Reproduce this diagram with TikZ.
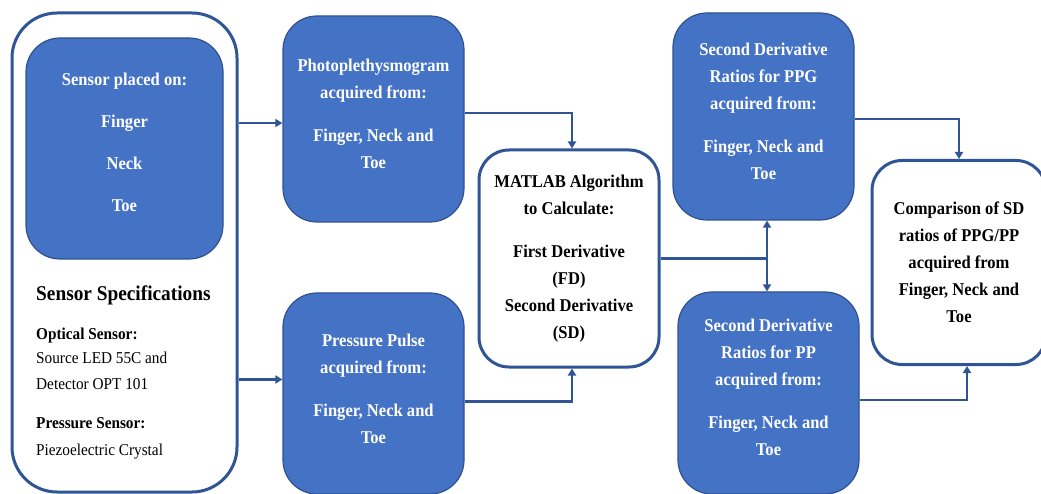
\documentclass[tikz,border=0pt]{standalone}
\usepackage{fontspec}
\setmainfont{Liberation Serif}[FakeStretch=0.92]
\usepackage{tikz}
\usetikzlibrary{positioning,arrows.meta,calc}

\definecolor{boxblue}{HTML}{4472C4}
\definecolor{edgeblue}{HTML}{2F528F}
\definecolor{linkblue}{HTML}{2F5597}

\begin{document}
\begin{tikzpicture}
[x=1pt,y=-1pt]

    \tikzstyle{bluebox}=[draw=edgeblue,line width=1.2pt,fill=boxblue,
                         rounded corners=34pt,text=white,align=center,
                         inner sep=0pt,font=\bfseries\fontsize{18}{27}\selectfont]
    \tikzstyle{whitebox}=[draw=linkblue,line width=3pt,fill=white,
                          rounded corners=30pt,align=center,inner sep=0pt,
                          font=\bfseries\fontsize{18}{27}\selectfont]
    \tikzstyle{spec}=[anchor=base west,inner sep=0pt]
    \tikzstyle{flow}=[draw=linkblue,line width=2.8pt,
                      -{Triangle[length=7pt,width=8pt]}]

    \useasboundingbox (0,0) rectangle (1041,494);
    \clip (0,0) rectangle (1041,494);

    % left panel: sensors and their specifications
    \node[whitebox,rounded corners=45pt,minimum width=225pt,minimum height=479pt]
        (outer) at (124.5,252.5) {};
    \node[bluebox,minimum width=197pt,minimum height=221pt] (placed) at (124.5,148.5)
        {Sensor placed on:\\[15pt]Finger\\[15pt]Neck\\[15pt]Toe\\[-14pt]\mbox{}};

    \node[spec,font=\bfseries\fontsize{21}{24}\selectfont] (spechead) at (36,300) {Sensor Specifications};
    \node[spec,font=\bfseries\fontsize{16.6}{20}\selectfont] (optlabel) at (36,339) {Optical Sensor:};
    \node[spec,font=\fontsize{16.6}{20}\selectfont] (optsrc) at (36,363) {Source LED 55C and};
    \node[spec,font=\fontsize{16.6}{20}\selectfont] (optdet) at (36,389) {Detector OPT 101};
    \node[spec,font=\bfseries\fontsize{16.6}{20}\selectfont] (preslabel) at (36,428) {Pressure Sensor:};
    \node[spec,font=\fontsize{16.6}{20}\selectfont] (prescrys) at (36,455) {Piezoelectric Crystal};

    % acquired signals
    \node[bluebox,minimum width=181pt,minimum height=206pt] (ppg) at (373.5,119)
        {Photoplethysmogram\\acquired from:\\[16pt]Finger, Neck and\\Toe\\[-16pt]\mbox{}};
    \node[bluebox,minimum width=181pt,minimum height=201pt] (pp) at (373.5,393.5)
        {Pressure Pulse\\acquired from:\\[16pt]Finger, Neck and\\Toe\\[-18pt]\mbox{}};

    % processing
    \node[whitebox,minimum width=180pt,minimum height=217pt] (matlab) at (569,258.5)
        {MATLAB Algorithm\\to Calculate:\\[16pt]First Derivative\\(FD)\\Second Derivative\\(SD)};

    % ratios
    \node[bluebox,minimum width=181pt,minimum height=207pt] (sdppg) at (763.5,116.5)
        {Second Derivative\\Ratios for PPG\\acquired from:\\[16pt]Finger, Neck and\\Toe\\[-16pt]\mbox{}};
    \node[bluebox,minimum width=181pt,minimum height=202pt] (sdpp) at (768.5,393)
        {Second Derivative\\Ratios for PP\\acquired from:\\[16pt]Finger, Neck and\\Toe\\[-16pt]\mbox{}};

    % comparison
    \node[whitebox,minimum width=174pt,minimum height=204pt] (comp) at (959,262.5)
        {Comparison of SD\\ratios of PPG/PP\\acquired from\\Finger, Neck and\\Toe};

    % connectors
    \draw[flow] ([yshift=-4pt]outer.east |- ppg.west) -- ([yshift=-4pt]ppg.west);
    \draw[flow] ([yshift=14pt]outer.east |- pp.west) -- ([yshift=14pt]pp.west);
    \draw[flow] ([yshift=6pt]ppg.east) -| ([xshift=3pt]matlab.north);
    \draw[flow] ([yshift=-8pt]pp.east) -| ([xshift=3pt]matlab.south);

    \coordinate (split) at ([xshift=3.5pt]sdppg.south |- matlab.east);
    \draw[draw=linkblue,line width=2.8pt] (matlab.east) -- (split);
    \draw[flow,{Triangle[length=7pt,width=8pt]}-{Triangle[length=7pt,width=8pt]}]
        (sdppg.south -| split) -- (sdpp.north -| split);

    \draw[flow] ([yshift=-2.5pt]sdppg.east) -| (comp.north);
    \draw[flow] ([yshift=-7pt]sdpp.east) -| ([xshift=8pt]comp.south);

 \end{tikzpicture}
\end{document}
